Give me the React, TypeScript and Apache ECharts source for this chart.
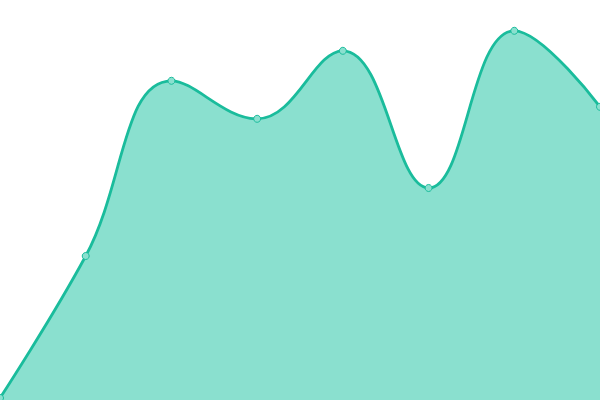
import { useEffect, useRef } from 'react';
import * as echarts from 'echarts';

const categories = ['1', '2', '3', '4', '5', '6', '7', '8'];
const values = [0.5, 36, 79.8, 70.3, 87.3, 53, 92.3, 73.3];

const LINE_COLOR = '#1abc9c';
const FILL_COLOR = '#8ae0cf';

export default function App() {
  const ref = useRef<HTMLDivElement>(null);

  useEffect(() => {
    document.body.style.margin = '0';
    if (!ref.current) return;
    const chart = echarts.init(ref.current, undefined, { renderer: 'svg' });
    chart.setOption({
      animation: false,
      grid: { left: 0, right: 0, top: 0, bottom: 0 },
      xAxis: {
        type: 'category',
        data: categories,
        boundaryGap: false,
        show: false,
      },
      yAxis: { type: 'value', min: 0, max: 100, show: false },
      series: [
        {
          type: 'line',
          data: values,
          smooth: 0.42,
          symbol: 'circle',
          symbolSize: 7,
          lineStyle: { color: LINE_COLOR, width: 2.8 },
          itemStyle: { color: FILL_COLOR, borderColor: LINE_COLOR, borderWidth: 1 },
          areaStyle: { color: FILL_COLOR, opacity: 1 },
        },
      ],
    });
    return () => chart.dispose();
  }, []);

  return <div ref={ref} style={{ width: 600, height: 400 }} />;
}
